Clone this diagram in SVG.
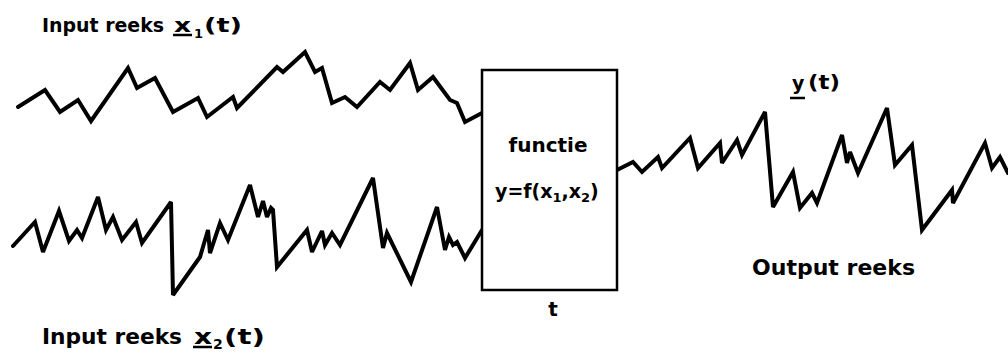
<svg xmlns="http://www.w3.org/2000/svg" width="1008" height="353" viewBox="0 0 1008 353">
<style>
  .sig{fill:none;stroke:#000;stroke-width:4;stroke-linejoin:miter;stroke-miterlimit:3;stroke-linecap:round}
  .box{fill:#fff;stroke:#000;stroke-width:2.5}
  .t{font-family:"DejaVu Sans","Liberation Sans",sans-serif;font-weight:bold;fill:#000}
  .ul{stroke:#000;stroke-width:2.5}
</style>
<g id="connectors">
  <polyline id="input1" class="sig" points="18,107 45,90 60,112 78,100 91,121 128,68 137,88 155,78 173,112 198,98 207,117 233,97 237,108 277,67 283,72 305,52 315,72 322,68 332,103 345,97 357,107 380,82 390,90 410,63 418,90 433,77 450,100 457,103 465,122 482,113"/>
  <polyline id="input2" class="sig" points="13,246 35,222 43,252 59,211 69,241 77,230 82,238 98,197 106,230 113,217 122,240 136,222 142,243 171,202 173,295 200,257 208,230 210,253 220,223 228,240 250,185 258,217 263,201 267,217 271,208 273,210 277,267 307,230 312,252 322,231 325,245 332,233 340,245 373,178 383,248 387,233 411,282 437,207 445,250 449,237 453,245 457,242 465,258 482,230"/>
  <polyline id="output" class="sig" points="617,170 633,162 642,172 658,157 662,168 690,138 698,168 720,143 722,163 737,140 742,155 765,112 773,207 793,172 800,208 812,193 817,203 842,135 847,163 850,152 858,173 887,108 895,165 912,145 922,230 952,190 953,203 985,143 992,168 1000,157 1008,173"/>
</g>
<g id="node-functie">
  <rect class="box" x="482" y="70" width="135" height="220"/>
  <text class="t" x="548" y="152" font-size="20" text-anchor="middle">functie</text>
  <text class="t" x="495" y="198" font-size="19">y=f(x<tspan font-size="13" dy="4">1</tspan><tspan dy="-4">,x</tspan><tspan font-size="13" dy="4">2</tspan><tspan dy="-4">)</tspan></text>
  <text class="t" x="553" y="316" font-size="20" text-anchor="middle">t</text>
</g>
<g id="label-input1">
  <text class="t" x="42" y="32" font-size="20" textLength="122" lengthAdjust="spacingAndGlyphs">Input reeks</text>
  <text class="t" x="174" y="32" font-size="20" textLength="17" lengthAdjust="spacingAndGlyphs">x</text>
  <line class="ul" x1="173" y1="35" x2="192" y2="35"/>
  <text class="t" x="194" y="38" font-size="13">1</text>
  <text class="t" x="204" y="32" font-size="20" textLength="38" lengthAdjust="spacingAndGlyphs">(t)</text>
</g>
<g id="label-input2">
  <text class="t" x="42" y="344" font-size="21" textLength="140" lengthAdjust="spacingAndGlyphs">Input reeks</text>
  <text class="t" x="194" y="344" font-size="21" textLength="18" lengthAdjust="spacingAndGlyphs">x</text>
  <line class="ul" x1="193" y1="347" x2="212" y2="347"/>
  <text class="t" x="213" y="349" font-size="14">2</text>
  <text class="t" x="224" y="344" font-size="21" textLength="41" lengthAdjust="spacingAndGlyphs">(t)</text>
</g>
<g id="label-output">
  <text class="t" x="792" y="90" font-size="19">y</text>
  <line class="ul" x1="790" y1="98" x2="805" y2="98"/>
  <text class="t" x="808" y="89" font-size="19" textLength="32" lengthAdjust="spacingAndGlyphs">(t)</text>
  <text class="t" x="752" y="275" font-size="21" textLength="163" lengthAdjust="spacingAndGlyphs">Output reeks</text>
</g>
</svg>
